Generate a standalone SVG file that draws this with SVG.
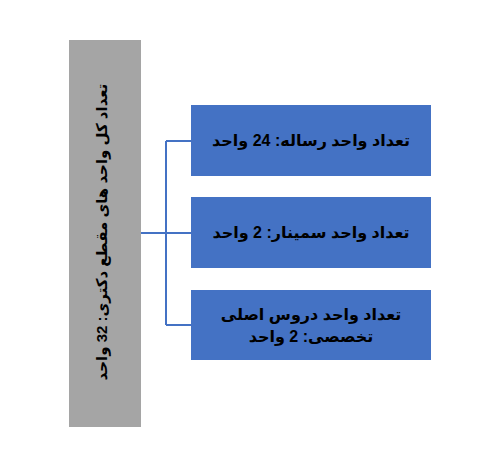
<svg xmlns="http://www.w3.org/2000/svg" width="504" height="463" viewBox="0 0 504 463">
<style>
.box{fill:#4472C4;}
.main{fill:#A5A5A5;}
.t{font-family:"Liberation Sans","DejaVu Sans",sans-serif;font-weight:bold;font-size:16px;fill:#000;text-anchor:middle;direction:rtl;}
.v{font-size:15px;}
.c{stroke:#4472C4;stroke-width:2;fill:none;}
</style>
<rect width="504" height="463" fill="#fff"/>
<g id="connectors">
<path class="c" d="M141 233 H166 M166 141 V325 M166 141 H191 M166 233 H191 M166 325 H191"/>
</g>
<g id="total">
<rect class="main" x="69" y="40" width="72" height="387"/>
<text class="t v" transform="translate(107 232) rotate(-90)" x="0" y="0">تعداد کل واحد های مقطع دکتری: 32 واحد</text>
</g>
<g id="thesis">
<rect class="box" x="191" y="105" width="240" height="71"/>
<text class="t" x="311" y="146">تعداد واحد رساله: 24 واحد</text>
</g>
<g id="seminar">
<rect class="box" x="191" y="197" width="240" height="71"/>
<text class="t" x="311" y="238">تعداد واحد سمینار: 2 واحد</text>
</g>
<g id="core">
<rect class="box" x="191" y="290" width="240" height="70"/>
<text class="t" x="311" y="320">تعداد واحد دروس اصلی</text>
<text class="t" x="311" y="342">تخصصی: 2 واحد</text>
</g>
</svg>
